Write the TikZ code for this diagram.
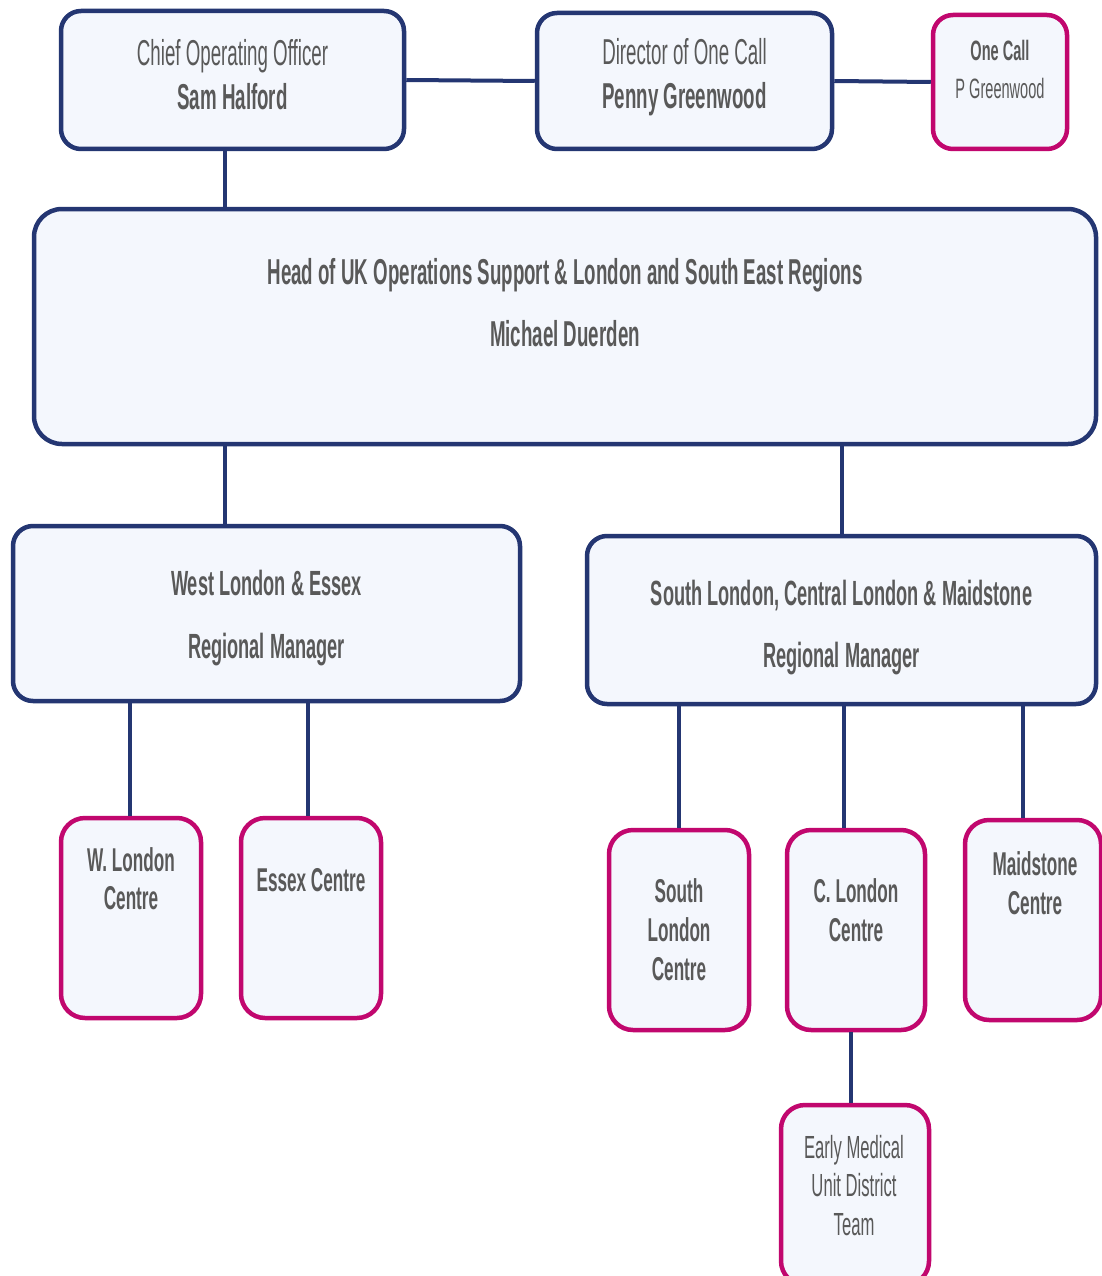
\documentclass[tikz,border=0pt]{standalone}
\usepackage{fontspec}
\setmainfont[FakeStretch=0.52]{Liberation Sans}
\usetikzlibrary{positioning}
\definecolor{navy}{HTML}{243672}
\definecolor{berry}{HTML}{C1076E}
\definecolor{boxfill}{HTML}{F4F7FD}
\definecolor{inkgrey}{HTML}{595959}
\tikzset{
  unit/.style={draw=navy, line width=4.5pt, fill=boxfill, rounded corners=20pt, inner sep=0pt},
  centre/.style={draw=berry, line width=4.5pt, fill=boxfill, rounded corners=24pt, inner sep=0pt,
    minimum width=140pt, minimum height=200pt},
  txt/.style={text=inkgrey, align=center, inner sep=0pt},
  link/.style={draw=navy, line width=4pt},
}
\begin{document}
\begin{tikzpicture}[x=1pt, y=-1pt]
    \useasboundingbox[fill=white] (0,0) rectangle (1102,1276);
    \node[unit, minimum width=343pt, minimum height=138pt] (coo) at (232.5,80) {};
    \node[unit, minimum width=295pt, minimum height=136pt] (dir) at (684.5,81) {};
    \node[unit, draw=berry, minimum width=134pt, minimum height=134pt] (one) at (1000,82) {};
    \node[unit, minimum width=1062pt, minimum height=235pt, rounded corners=28pt] (hed) at (565,326.5) {};
    \node[unit, minimum width=507pt, minimum height=175pt] (wes) at (266.5,613.5) {};
    \node[unit, minimum width=509pt, minimum height=168pt] (sou) at (841.5,620) {};
    \node[centre] (wlc) at (131,918)  {};
    \node[centre] (esx) at (311,918)  {};
    \node[centre] (slc) at (679,930)  {};
    \node[centre, minimum width=138pt] (clc) at (856,930)  {};
    \node[centre, minimum width=136pt] (mdc) at (1033,920) {};
    \node[centre, minimum width=148pt, minimum height=180pt] (emu) at (855,1195) {};

    \node[txt, font=\fontsize{36}{44}\selectfont] (cot) at ([shift={(0,-5)}]coo.center)
      {Chief Operating Officer\\\textbf{Sam Halford}};
    \node[txt, font=\fontsize{36}{44}\selectfont] (drt) at ([shift={(0,-4)}]dir.center)
      {Director of One Call\\\textbf{Penny Greenwood}};
    \node[txt, font=\fontsize{28}{38}\selectfont] (ont) at ([shift={(0,-13)}]one.center)
      {\textbf{One Call}\\P Greenwood};
    \node[txt, font=\bfseries\fontsize{36}{62}\selectfont] (hdt) at ([shift={(0,-23.5)}]hed.center)
      {Head of UK Operations Support \& London and South East Regions\\Michael Duerden};
    \node[txt, font=\bfseries\fontsize{35}{63}\selectfont] (wst) at ([shift={(0,5)}]wes.center)
      {West London \& Essex\\Regional Manager};
    \node[txt, font=\bfseries\fontsize{35}{62}\selectfont] (sot) at ([shift={(0,8)}]sou.center)
      {South London, Central London \& Maidstone\\Regional Manager};
    \node[txt, font=\bfseries\fontsize{33}{38}\selectfont] (wlt) at ([shift={(0,-39)}]wlc.center)
      {W. London\\Centre};
    \node[txt, font=\bfseries\fontsize{33}{38}\selectfont] (ext) at ([shift={(0,-38)}]esx.center)
      {Essex Centre};
    \node[txt, font=\bfseries\fontsize{33}{39}\selectfont] (slt) at (slc.center)
      {South\\London\\Centre};
    \node[txt, font=\bfseries\fontsize{33}{39}\selectfont] (clt) at ([shift={(0,-19.5)}]clc.center)
      {C. London\\Centre};
    \node[txt, font=\bfseries\fontsize{33}{39}\selectfont] (mdt) at ([shift={(2,-36.5)}]mdc.center)
      {Maidstone\\Centre};
    \node[txt, font=\fontsize{32}{38.5}\selectfont] (emt) at ([shift={(-1,-9.5)}]emu.center)
      {Early Medical\\Unit District\\Team};

    \draw[link] (coo.east) -- (dir.west);
    \draw[link] (dir.east) -- (one.west);
    \draw[link] ([xshift=-7.5]coo.south) -- ([xshift=-7.5]coo.south |- hed.north);
    \draw[link] (hed.south -| 225,0) -- (wes.north -| 225,0);
    \draw[link] (hed.south -| sou.north) -- (sou.north);
    \draw[link] (wes.south -| 130,0) -- (wlc.north -| 130,0);
    \draw[link] (wes.south -| 308,0) -- (esx.north -| 308,0);
    \draw[link] (sou.south -| slc.north) -- (slc.north);
    \draw[link] (sou.south -| 844,0) -- (clc.north -| 844,0);
    \draw[link] (sou.south -| 1023,0) -- (mdc.north -| 1023,0);
    \draw[link] (clc.south -| 851,0) -- (emu.north -| 851,0);
  \end{tikzpicture}
\end{document}
